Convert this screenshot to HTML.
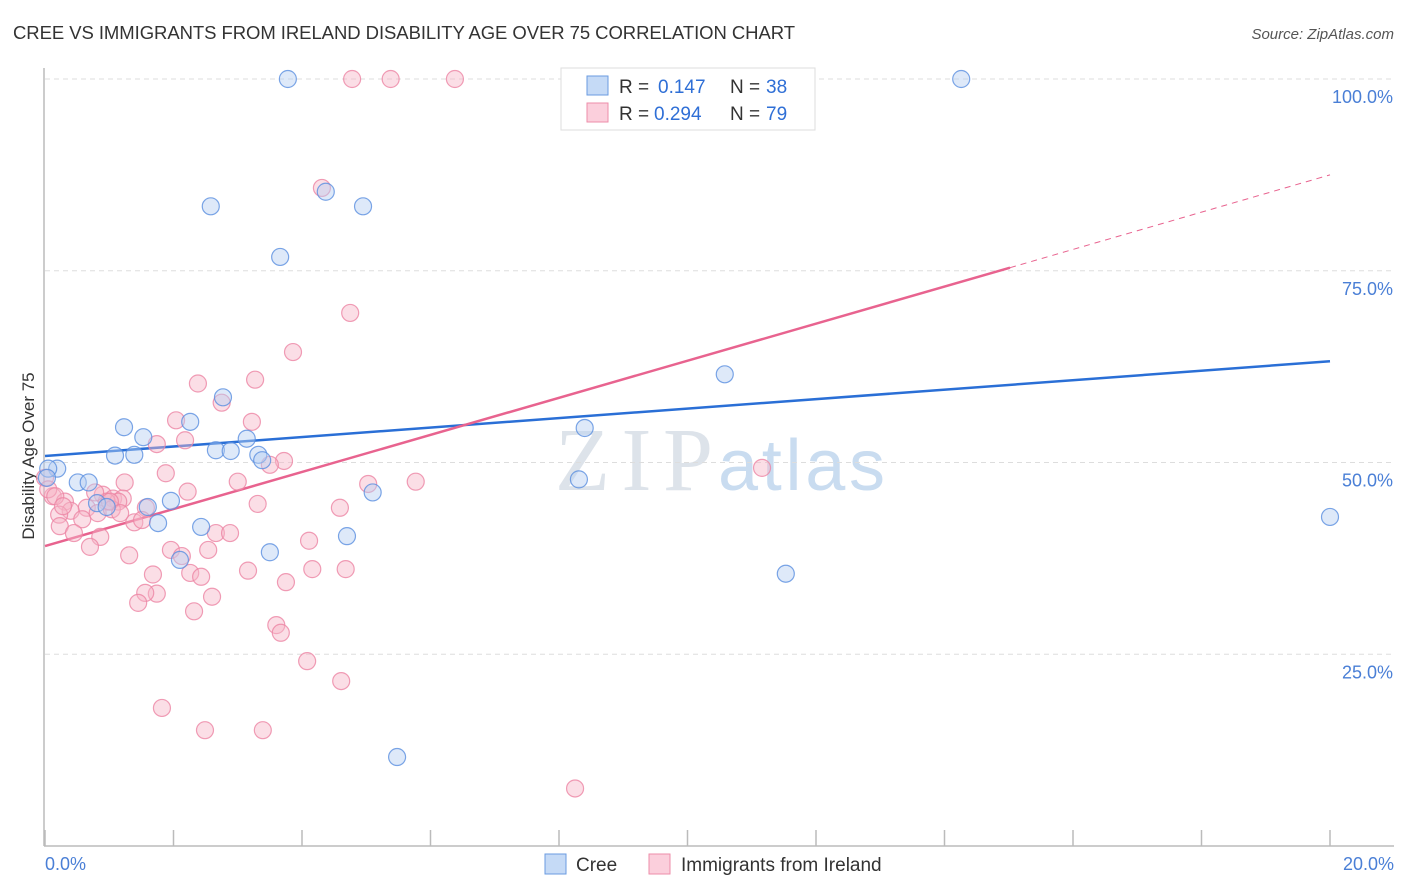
<!DOCTYPE html>
<html><head><meta charset="utf-8"><style>
body{margin:0;background:#fff;font-family:"Liberation Sans",sans-serif;}
#wrap{position:relative;width:1406px;height:892px;overflow:hidden;}
</style></head><body>
<div id="wrap">
<svg id="svg" width="1406" height="892" xmlns="http://www.w3.org/2000/svg">
<text x="13" y="39" font-size="18.5" fill="#333" textLength="782">CREE VS IMMIGRANTS FROM IRELAND DISABILITY AGE OVER 75 CORRELATION CHART</text>
<text x="1394" y="39" font-size="15" fill="#555" font-style="italic" text-anchor="end">Source: ZipAtlas.com</text>
<text x="34" y="456" font-size="17" fill="#333" text-anchor="middle" transform="rotate(-90 34 456)">Disability Age Over 75</text>
<text x="555" y="490" font-size="90" fill="#dde3ea" font-family="Liberation Serif,serif" textLength="158">ZIP</text>
<text x="718" y="490" font-size="72" fill="#c9dcf0" textLength="167">atlas</text>
<g id="grid"></g><g id="lines"></g><g id="pts"></g>
<g>
<rect x="561" y="68" width="254" height="62" fill="#fff" stroke="#ddd"/>
<rect x="587" y="76" width="21" height="19" fill="#c5daf6" stroke="#6a9be0"/>
<rect x="587" y="103" width="21" height="19" fill="#fbcfdc" stroke="#ee8eaa"/>
<g font-size="19" fill="#333">
<text x="619" y="93">R =</text><text x="658" y="93" fill="#2f6fd6">0.147</text><text x="730" y="93">N =</text><text x="766" y="93" fill="#2f6fd6">38</text></g>
<g font-size="19" fill="#333">
<text x="619" y="120">R =</text><text x="654" y="120" fill="#2f6fd6">0.294</text><text x="730" y="120">N =</text><text x="766" y="120" fill="#2f6fd6">79</text></g>
</g>
<g>
<rect x="545" y="854" width="21" height="20" fill="#c5daf6" stroke="#6a9be0"/>
<text x="576" y="871" font-size="19" fill="#333">Cree</text>
<rect x="649" y="854" width="21" height="20" fill="#fbcfdc" stroke="#ee8eaa"/>
<text x="681" y="871" font-size="19" fill="#333">Immigrants from Ireland</text>
</g>
<text x="45" y="870" font-size="18" fill="#4a7fd6">0.0%</text>
<text x="1394" y="870" font-size="18" fill="#4a7fd6" text-anchor="end">20.0%</text>
</svg>
</div>
<script>
const NS="http://www.w3.org/2000/svg";
const yTicks=[25,50,75,100];
const yTickLabels=["25.0%","50.0%","75.0%","100.0%"];
const creeX=[3.78,14.26,2.58,4.37,4.95,3.66,10.58,2.77,1.23,1.53,2.26,3.14,2.66,2.89,1.09,1.39,3.32,3.38,0.19,0.51,0.68,8.40,8.31,5.10,0.81,0.96,1.60,1.96,1.76,2.43,4.70,3.50,2.10,11.53,20.0,5.48,0.05,0.03];
const creeY=[100,100,83.4,85.3,83.4,76.8,61.5,58.5,54.6,53.3,55.3,53.1,51.6,51.5,50.9,51.0,51.0,50.3,49.2,47.4,47.4,54.5,47.8,46.1,44.7,44.2,44.2,45.0,42.1,41.6,40.4,38.3,37.3,35.5,42.9,11.6,49.2,48.0];
const irX=[4.78,5.38,6.38,9.82,4.31,4.75,3.86,2.38,3.27,2.75,2.04,3.22,2.18,1.74,3.72,3.50,11.16,1.88,3.00,5.03,5.77,2.22,1.24,0.90,1.06,1.21,1.14,0.96,0.12,0.31,3.31,4.59,1.57,0.65,0.40,0.22,0.58,0.82,1.39,1.51,0.23,0.45,0.86,1.04,2.66,2.88,4.11,1.96,2.54,0.70,1.31,2.13,3.16,4.16,4.68,1.68,2.26,2.43,3.75,1.74,2.60,1.56,1.45,2.32,3.60,3.67,4.08,4.61,1.82,2.49,3.39,8.25,0.0,0.05,0.16,0.28,1.01,1.17,0.78];
const irY=[100,100,100,100,85.8,69.5,64.4,60.3,60.8,57.8,55.5,55.3,52.9,52.4,50.2,49.7,49.3,48.6,47.5,47.2,47.5,46.2,47.4,45.8,45.3,45.3,44.9,44.9,45.6,44.9,44.6,44.1,44.1,44.1,43.7,43.2,42.6,43.4,42.2,42.5,41.7,40.8,40.3,43.9,40.8,40.8,39.8,38.6,38.6,39.0,37.9,37.8,35.9,36.1,36.1,35.4,35.6,35.1,34.4,32.9,32.5,33.0,31.7,30.6,28.8,27.8,24.1,21.5,18.0,15.1,15.1,7.5,48.0,46.5,45.6,44.3,44.9,43.4,46.1];
const creeLine=[50.85,63.2];
const irLine=[39.1,75.4,87.5];
const X0=45,X1=1330,Y0=846,PPY=7.67;
const sx=v=>X0+(v/20)*(X1-X0);
const sy=v=>Y0-v*PPY;
function mk(tag,attrs,parent){const e=document.createElementNS(NS,tag);for(const k in attrs)e.setAttribute(k,attrs[k]);parent.appendChild(e);return e;}
const grid=document.getElementById('grid'),lines=document.getElementById('lines'),pts=document.getElementById('pts');
const ax=mk('line',{x1:44,y1:68,x2:44,y2:846,stroke:'#bbb','stroke-width':1.5},grid);


const bx=mk('line',{x1:44,y1:846,x2:1394,y2:846,stroke:'#bbb','stroke-width':1.5},grid);


for(let i=0;i<=10;i++){const x=X0+i*(X1-X0)/10;const t=mk('line',{x1:x,y1:830,x2:x,y2:846,stroke:'#bbb','stroke-width':1.5},grid);

}
yTicks.forEach((v,i)=>{const y=sy(v);
const g=mk('line',{x1:45,y1:y,x2:1394,y2:y,stroke:'#ddd','stroke-dasharray':'5,4'},grid);


const t=mk('text',{x:1393,y:y+24,'font-size':18,fill:'#4a7fd6','text-anchor':'end'},grid);t.textContent=yTickLabels[i];

});
function dots(xs,ys,fill,stroke,name){xs.forEach((x,i)=>{const c=mk('circle',{cx:sx(x),cy:sy(ys[i]),r:8.5,fill:fill,'fill-opacity':0.45,stroke:stroke,'stroke-width':1.2,'stroke-opacity':0.8},pts);

});}
dots(irX,irY,'#f7b5c8','#ec85a4','ireland-point');
dots(creeX,creeY,'#b5cff2','#5a8fe0','cree-point');
const l1=mk('line',{x1:sx(0),y1:sy(creeLine[0]),x2:sx(20),y2:sy(creeLine[1]),stroke:'#2a6fd6','stroke-width':2.5},lines);


const l2=mk('line',{x1:sx(0),y1:sy(irLine[0]),x2:sx(15.02),y2:sy(irLine[1]),stroke:'#e8638f','stroke-width':2.5},lines);


const l3=mk('line',{x1:sx(15.02),y1:sy(irLine[1]),x2:sx(20),y2:sy(irLine[2]),stroke:'#e8638f','stroke-width':1,'stroke-dasharray':'6,5'},lines);


</script>
</body></html>
